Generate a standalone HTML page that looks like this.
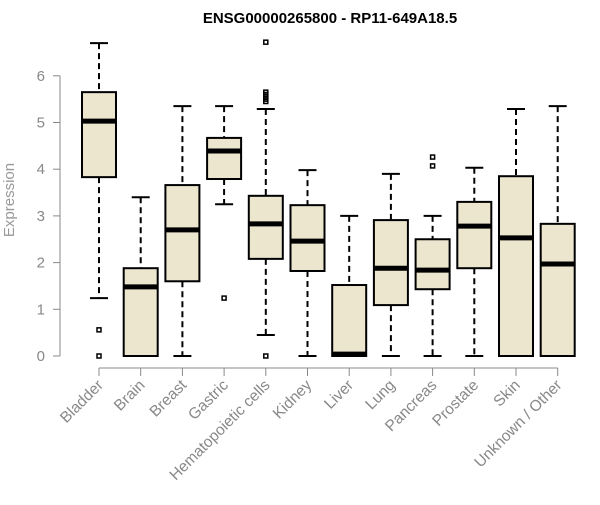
<!DOCTYPE html>
<html><head><meta charset="utf-8"><style>
body{margin:0;background:#fff}
svg text{font-family:"Liberation Sans",Arial,sans-serif}
</style></head><body>
<svg id="chart" width="600" height="500" xmlns="http://www.w3.org/2000/svg">
<text x="330" y="23" text-anchor="middle" font-size="15" font-weight="bold">ENSG00000265800 - RP11-649A18.5</text>
<text transform="translate(14,200) rotate(-90)" text-anchor="middle" font-size="15" fill="#999">Expression</text>
<g id="axes"></g><g id="boxes"></g>
</svg>
<script>
const categories=["Bladder","Brain","Breast","Gastric","Hematopoietic cells","Kidney","Liver","Lung","Pancreas","Prostate","Skin","Unknown / Other"];
const whiskerHigh=[6.7,3.4,5.35,5.35,5.29,3.98,3.0,3.9,3.0,4.03,5.29,5.35];
const q3=[5.65,1.88,3.66,4.67,3.43,3.23,1.52,2.91,2.5,3.3,3.85,2.83];
const medians=[5.03,1.48,2.7,4.39,2.83,2.46,0.04,1.88,1.84,2.78,2.53,1.97];
const q1=[3.83,0,1.6,3.79,2.08,1.82,0,1.09,1.43,1.88,0,0];
const whiskerLow=[1.24,0,0,3.25,0.45,0,0,0,0,0,0,0];
const outliers=[[0.56,0],[],[],[1.24],[6.72,5.65,5.6,5.55,5.5,5.45,0],[],[],[],[4.26,4.07],[],[],[]];
const yTicks=[0,1,2,3,4,5,6];
const NS="http://www.w3.org/2000/svg";
const y=v=>356-v*46.7;
const x=i=>99+i*41.7;
function mk(tag,attrs,parent){const e=document.createElementNS(NS,tag);for(const k in attrs)e.setAttribute(k,attrs[k]);parent.appendChild(e);return e;}
const ax=document.getElementById('axes'),bx=document.getElementById('boxes');
const yl=mk('line',{x1:60,x2:60,y1:y(6),y2:y(0),stroke:'#888'},ax);


yTicks.forEach(t=>{
 const tl=mk('line',{x1:53,x2:60,y1:y(t),y2:y(t),stroke:'#888'},ax);
 
 
 const tx=mk('text',{x:45,y:y(t)+5,'text-anchor':'end','font-size':15,fill:'#888'},ax);
 tx.textContent=t;
 
 
});
const xl=mk('line',{x1:x(0),x2:x(11),y1:368,y2:368,stroke:'#888'},ax);


categories.forEach((c,i)=>{
 const cx=x(i);
 const tk=mk('line',{x1:cx,x2:cx,y1:368,y2:376,stroke:'#888'},ax);
 
 
 const lb=mk('text',{transform:`translate(${cx+5},${386}) rotate(-45)`,'text-anchor':'end','font-size':15.5,fill:'#888'},ax);
 lb.textContent=c;
 
 
 const g=mk('g',{},bx);
 
 
 mk('line',{x1:cx,x2:cx,y1:y(whiskerHigh[i]),y2:y(q3[i]),stroke:'#000','stroke-width':2,'stroke-dasharray':'6,4'},g);
 mk('line',{x1:cx,x2:cx,y1:y(q1[i]),y2:y(whiskerLow[i]),stroke:'#000','stroke-width':2,'stroke-dasharray':'6,4'},g);
 mk('line',{x1:cx-9,x2:cx+9,y1:y(whiskerHigh[i]),y2:y(whiskerHigh[i]),stroke:'#000','stroke-width':2},g);
 mk('line',{x1:cx-9,x2:cx+9,y1:y(whiskerLow[i]),y2:y(whiskerLow[i]),stroke:'#000','stroke-width':2},g);
 mk('rect',{x:cx-17,y:y(q3[i]),width:34,height:Math.max(y(q1[i])-y(q3[i]),0),fill:'#ECE6CE',stroke:'#000','stroke-width':2},g);
 mk('line',{x1:cx-17,x2:cx+17,y1:y(medians[i]),y2:y(medians[i]),stroke:'#000','stroke-width':5},g);
 outliers[i].forEach(o=>{mk('rect',{x:cx-2,y:y(o)-2,width:4,height:4,fill:'none',stroke:'#000','stroke-width':1.5},g);});
});
</script>
</body></html>
